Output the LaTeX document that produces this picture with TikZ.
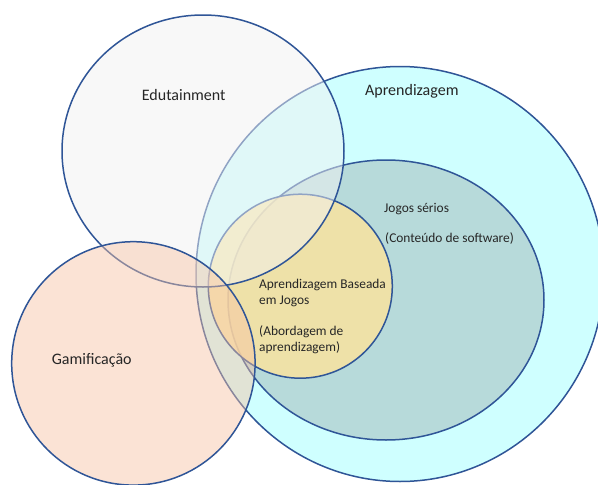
\documentclass[tikz,border=0pt]{standalone}
\usepackage{fontspec}
\setmainfont{Carlito}
\definecolor{vblue}{RGB}{47,85,151}
\definecolor{aprC}{RGB}{207,255,255}
\definecolor{jogC}{RGB}{183,218,218}
\definecolor{abjC}{RGB}{252,227,156}
\definecolor{eduC}{RGB}{242,242,242}
\definecolor{gamC}{RGB}{248,195,164}
\definecolor{txt}{RGB}{38,38,38}
\begin{document}
\begin{tikzpicture}[x=1pt,y=-1pt,
  venn/.style={draw=vblue, line width=1.5pt},
  biglabel/.style={font=\fontsize{16}{19}\selectfont, text=txt, inner sep=0pt, anchor=base west},
  smalllabel/.style={font=\fontsize{13.4}{16}\selectfont, text=txt, inner sep=0pt, anchor=base west}]
\fill[white] (0,0) rectangle (598,485);
\clip (0,0) rectangle (598,485);
% Aprendizagem
\path[venn, fill=aprC] (400,274) ellipse [x radius=204pt, y radius=207.5pt];
% Jogos serios
\path[venn, fill=jogC] (386,300) ellipse [x radius=158pt, y radius=140pt];
% Aprendizagem Baseada em Jogos
\path[venn, fill=abjC, fill opacity=0.8] (300.3,286.2) circle [radius=92pt];
% Edutainment
\path[venn, fill=eduC, fill opacity=0.5] (203,151) ellipse [x radius=141pt, y radius=136pt];
% Gamificacao
\path[venn, fill=gamC, fill opacity=0.45] (133.4,363.4) circle [radius=121.7pt];
% labels
\node[biglabel] (edu) at (141.7,100) {Edutainment};
\node[biglabel] (apr) at (365,95.5) {Aprendizagem};
\node[biglabel] (gam) at (51.7,364) {Gamificação};
\node[smalllabel] (jog1) at (384,212.6) {Jogos sérios};
\node[smalllabel] (jog2) at (385,242.5) {(Conteúdo de software)};
\node[smalllabel] (abj1) at (259,288) {Aprendizagem Baseada};
\node[smalllabel] (abj2) at (259,304.5) {em Jogos};
\node[smalllabel] (abj3) at (259,335.2) {(Abordagem de};
\node[smalllabel] (abj4) at (259,351.7) {aprendizagem)};
\end{tikzpicture}
\end{document}
